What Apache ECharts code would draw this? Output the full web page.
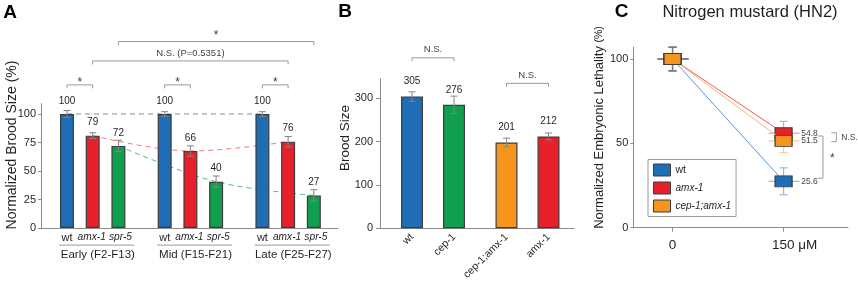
<!DOCTYPE html>
<html>
<head>
<meta charset="utf-8">
<script src="https://cdn.jsdelivr.net/npm/echarts@6.0.0/dist/echarts.min.js"></script>
<style>
  html, body { margin: 0; padding: 0; background: #fff; }
  #chart { width: 858px; height: 281px; }
</style>
</head>
<body>
<div id="chart"></div>
<script>
// ---- panel A: normalized brood size over generations ----
const groupsA = ['Early (F2-F13)', 'Mid (F15-F21)', 'Late (F25-F27)'];
const strainsA = ['wt', 'amx-1', 'spr-5'];
const wtA = [100, 100, 100];
const amxA = [81, 67.5, 75.7];
const sprA = [72, 40.6, 28.6];
const wtErrA = [3, 2, 2];
const amxErrA = [2.5, 4.5, 4.5];
const sprErrA = [5, 5, 5];
const wtLabA = ['100', '100', '100'];
const amxLabA = ['79', '66', '76'];
const sprLabA = ['72', '40', '27'];
// [bar index from, bar index to, text]
const compA = [[0, 1, '*'], [3, 4, '*'], [6, 7, '*'], [1, 7, 'N.S. (P=0.5351)'], [2, 8, '*']];

// ---- panel B: brood size ----
const strainsB = ['wt', 'cep-1', 'cep-1;amx-1', 'amx-1'];
const broodB = [304, 285, 198, 212];
const broodErrB = [11, 20, 10, 8];
const broodLabB = ['305', '276', '201', '212'];
const compB = [[0, 1, 'N.S.'], [2, 3, 'N.S.']];

// ---- panel C: embryonic lethality, HN2 ----
const doseC = [0, 150];
const seriesC = ['wt', 'amx-1', 'cep-1;amx-1'];
const wtC = [100, 27.5];
const amxC = [100, 56];
const cepAmxC = [100, 51.5];
const wtErrC = [7, 8];
const amxErrC = [7, 7];
const cepAmxErrC = [7, 7];
const endLabC = ['25.6', '54.8', '51.5'];

const FONT = "'Liberation Sans', Arial, sans-serif";
const INK = '#231f20';
const AXIS = '#8c8c8c';
const BRK = '#9a9a9a';
const EDGE = '#3d3d3d';
const ERR = '#858585';
const barColorsA = ['#1f6db5', '#e8202a', '#0f9f4e'];
const barColorsB = ['#1f6db5', '#0f9f4e', '#f7941d', '#e8202a'];
const colC = ['#1f6db5', '#e8202a', '#f7941d'];
const lineColC = ['#5a96d8', '#ef5a57', '#fbb870'];
const errColC = ['#8fb9e6', '#f39a97', '#fbc98f'];

// layout
const posA = [];
const labPosA = [];
const labShift = [0, -0.04, 0.08];
groupsA.forEach((g, gi) => strainsA.forEach((s, si) => {
  posA.push(gi * 3.8 + si);
  labPosA.push(gi * 3.8 + si + labShift[si]);
}));
const posB = [0, 1, 2.25, 3.25];
const levA = [125.5, 125.5, 125.5, 146.5, 163.5];
const liftA = [2, 2, 2, 3, 6];
const levB = [393.5, 334.5];
const liftB = [3, 3];

const valsA = [], errsA = [], labsA = [];
groupsA.forEach((g, gi) => {
  valsA.push(wtA[gi], amxA[gi], sprA[gi]);
  errsA.push(wtErrA[gi], amxErrA[gi], sprErrA[gi]);
  labsA.push(wtLabA[gi], amxLabA[gi], sprLabA[gi]);
});

function errRender(params, api) {
  const x = api.value(0), y = api.value(1), e = api.value(2);
  const t = api.coord([x, y + e]), b = api.coord([x, y - e]);
  const hw = 3.5, st = { stroke: ERR, lineWidth: 1 };
  return { type: 'group', children: [
    { type: 'line', shape: { x1: t[0], y1: t[1], x2: b[0], y2: b[1] }, style: st },
    { type: 'line', shape: { x1: t[0] - hw, y1: t[1], x2: t[0] + hw, y2: t[1] }, style: st },
    { type: 'line', shape: { x1: b[0] - hw, y1: b[1], x2: b[0] + hw, y2: b[1] }, style: st }
  ]};
}

function bracketRender(list, lift) {
  return function (params, api) {
    const p1 = api.coord([api.value(0), api.value(2)]);
    const p2 = api.coord([api.value(1), api.value(2)]);
    const txt = list[params.dataIndex][2];
    const star = txt === '*';
    return { type: 'group', children: [
      { type: 'polyline', shape: { points: [[p1[0], p1[1] + 3.5], [p1[0], p1[1]], [p2[0], p2[1]], [p2[0], p2[1] + 3.5]] },
        style: { stroke: BRK, lineWidth: 1, fill: null } },
      { type: 'text', x: (p1[0] + p2[0]) / 2, y: p1[1] - lift[params.dataIndex],
        style: { text: txt, align: 'center', verticalAlign: star ? 'middle' : 'bottom',
          fontSize: star ? 12 : 9.5, fontFamily: FONT, fill: '#444' } }
    ]};
  };
}

function lineRender(params, api) {
  const p1 = api.coord([api.value(0), api.value(2)]);
  const p2 = api.coord([api.value(1), api.value(2)]);
  return { type: 'line', shape: { x1: p1[0], y1: p1[1], x2: p2[0], y2: p2[1] }, style: { stroke: BRK, lineWidth: 1 } };
}

const chart = echarts.init(document.getElementById('chart'), null, { renderer: 'canvas' });

const baseAxis = {
  axisLine: { show: true, onZero: false, lineStyle: { color: AXIS, width: 1 } },
  splitLine: { show: false },
  axisTick: { show: false }
};
const tickLab = { fontSize: 11, color: INK, fontFamily: FONT, hideOverlap: false };
const italic = { fontStyle: 'italic', fontSize: 10.2, color: INK, fontFamily: FONT };

const option = {
  animation: false,
  backgroundColor: '#fff',
  textStyle: { fontFamily: FONT },
  grid: [
    { left: 41, top: 103.7, width: 297, height: 124.3, containLabel: false, outerBoundsMode: 'none' },
    { left: 380, top: 78.8, width: 194, height: 149.5, containLabel: false, outerBoundsMode: 'none' },
    { left: 633.3, top: 47.2, width: 214.7, height: 180.5, containLabel: false, outerBoundsMode: 'none' }
  ],
  xAxis: [
    Object.assign({}, baseAxis, {
      gridIndex: 0, type: 'value', min: -1.01, max: 10.54,
      axisLabel: Object.assign({}, tickLab, {
        customValues: labPosA, margin: 4,
        formatter: v => {
          const k = labPosA.findIndex(p => Math.abs(p - v) < 1e-6);
          const s = strainsA[k % 3];
          return s === 'wt' ? s : '{i|' + s + '}';
        },
        rich: { i: italic }
      })
    }),
    {
      gridIndex: 0, type: 'value', min: -1.01, max: 10.54, position: 'bottom', offset: 16.5,
      axisLine: { show: false, onZero: false }, axisTick: { show: false }, splitLine: { show: false },
      axisLabel: Object.assign({}, tickLab, {
        fontSize: 11.5, margin: 4,
        customValues: groupsA.map((g, gi) => gi * 3.8 + 1.2),
        formatter: v => groupsA[Math.round((v - 1.2) / 3.8)]
      })
    },
    Object.assign({}, baseAxis, {
      gridIndex: 1, type: 'value', min: -0.762, max: 3.857,
      axisLabel: Object.assign({}, tickLab, {
        customValues: posB, rotate: 45, margin: 7, fontSize: 10.5,
        formatter: v => strainsB[posB.findIndex(p => Math.abs(p - v) < 1e-6)]
      })
    }),
    Object.assign({}, baseAxis, {
      gridIndex: 2, type: 'value', min: -53, max: 237,
      axisTick: { show: true, customValues: doseC, length: 4, lineStyle: { color: AXIS } },
      axisLabel: Object.assign({}, tickLab, {
        customValues: doseC, fontSize: 13.5, margin: 11,
        formatter: v => v === 0 ? '0' : '{u|' + v + ' μM}',
        rich: { u: { fontSize: 13.5, fontFamily: FONT, color: INK, padding: [0, 0, 0, 22] } }
      })
    })
  ],
  yAxis: [
    Object.assign({}, baseAxis, {
      gridIndex: 0, type: 'value', min: 0, max: 109,
      axisTick: { show: true, customValues: [0, 25, 50, 75, 100], length: 3, lineStyle: { color: AXIS } },
      axisLabel: Object.assign({}, tickLab, { customValues: [0, 25, 50, 75, 100], margin: 5 })
    }),
    Object.assign({}, baseAxis, {
      gridIndex: 1, type: 'value', min: 0, max: 345,
      axisTick: { show: true, customValues: [0, 100, 200, 300], length: 4, lineStyle: { color: AXIS } },
      axisLabel: Object.assign({}, tickLab, { customValues: [0, 100, 200, 300], margin: 7 })
    }),
    Object.assign({}, baseAxis, {
      gridIndex: 2, type: 'value', min: 0, max: 107,
      axisTick: { show: true, customValues: [0, 50, 100], length: 3, lineStyle: { color: AXIS } },
      axisLabel: Object.assign({}, tickLab, { customValues: [0, 50, 100], margin: 5 })
    })
  ],
  legend: {
    orient: 'vertical', left: 648, top: 159.5,
    data: seriesC, icon: 'rect', itemWidth: 17, itemHeight: 12, itemGap: 5,
    padding: [4, 5, 4, 5], borderColor: '#9a9a9a', borderWidth: 1, borderRadius: 0, backgroundColor: '#fff',
    itemStyle: { borderColor: EDGE, borderWidth: 1 },
    textStyle: { fontSize: 10.5, color: INK, fontFamily: FONT,
      rich: { i: { fontStyle: 'italic', fontSize: 10, color: INK, fontFamily: FONT } } },
    formatter: n => n === 'wt' ? n : '{i|' + n + '}'
  },
  series: [
    // A trend lines
    { type: 'line', xAxisIndex: 0, yAxisIndex: 0, z: 1, symbol: 'none', silent: true,
      data: [0, 1, 2].map(g => [posA[g * 3], wtA[g]]),
      lineStyle: { color: '#8a8a8a', width: 1, type: [5, 4] } },
    { type: 'line', xAxisIndex: 0, yAxisIndex: 0, z: 1, symbol: 'none', smooth: 0.35, silent: true,
      data: [0, 1, 2].map(g => [posA[g * 3 + 1], amxA[g]]),
      lineStyle: { color: '#f47a72', width: 1, type: [5, 4] } },
    { type: 'line', xAxisIndex: 0, yAxisIndex: 0, z: 1, symbol: 'none', smooth: 0.35, silent: true,
      data: [0, 1, 2].map(g => [posA[g * 3 + 2], sprA[g]]),
      lineStyle: { color: '#55bb7c', width: 1, type: [5, 4] } },
    // A bars
    { type: 'bar', xAxisIndex: 0, yAxisIndex: 0, z: 2, barWidth: 14,
      data: valsA.map((v, k) => ({ value: [posA[k], v],
        itemStyle: { color: barColorsA[k % 3], borderColor: EDGE, borderWidth: 1.2 } })),
      label: { show: true, position: 'top', distance: 8, fontSize: 10, color: INK, fontFamily: FONT,
        formatter: p => labsA[p.dataIndex] } },
    { type: 'custom', xAxisIndex: 0, yAxisIndex: 0, z: 3, renderItem: errRender,
      encode: { x: 0, y: 1 }, data: valsA.map((v, k) => [posA[k], v, errsA[k]]) },
    { type: 'custom', xAxisIndex: 0, yAxisIndex: 0, z: 3, renderItem: bracketRender(compA, liftA),
      encode: { x: [0, 1], y: 2 }, data: compA.map((c, i) => [posA[c[0]], posA[c[1]], levA[i]]) },
    { type: 'custom', xAxisIndex: 0, yAxisIndex: 0, z: 3, renderItem: lineRender,
      encode: { x: [0, 1], y: 2 }, data: groupsA.map((g, gi) => [gi * 3.8 - 0.3, gi * 3.8 + 2.62, -15]) },
    // B bars
    { type: 'bar', xAxisIndex: 2, yAxisIndex: 1, z: 2, barWidth: 22,
      data: broodB.map((v, k) => ({ value: [posB[k], v],
        itemStyle: { color: barColorsB[k], borderColor: EDGE, borderWidth: 1.2 } })),
      label: { show: true, position: 'top', distance: 10, fontSize: 10, color: INK, fontFamily: FONT,
        formatter: p => broodLabB[p.dataIndex] } },
    { type: 'custom', xAxisIndex: 2, yAxisIndex: 1, z: 3, renderItem: errRender,
      encode: { x: 0, y: 1 }, data: broodB.map((v, k) => [posB[k], v, broodErrB[k]]) },
    { type: 'custom', xAxisIndex: 2, yAxisIndex: 1, z: 3, renderItem: bracketRender(compB, liftB),
      encode: { x: [0, 1], y: 2 }, data: compB.map((c, i) => [posB[c[0]], posB[c[1]], levB[i]]) },
    // C error crosses
    { type: 'custom', xAxisIndex: 3, yAxisIndex: 2, z: 1,
      encode: { x: 0, y: 1 },
      data: [wtC, amxC, cepAmxC].flatMap((arr, si) => doseC.map((d, i) =>
        [d, arr[i], [wtErrC, amxErrC, cepAmxErrC][si][i], si])),
      renderItem: (params, api) => {
        const x = api.value(0), y = api.value(1), e = api.value(2), si = api.value(3);
        const c = api.coord([x, y]), t = api.coord([x, y + e]), b = api.coord([x, y - e]);
        const col = x === 0 ? '#7a7a7a' : errColC[si];
        const st = { stroke: col, lineWidth: 1.2 };
        return { type: 'group', children: [
          { type: 'line', shape: { x1: t[0], y1: t[1], x2: b[0], y2: b[1] }, style: st },
          { type: 'line', shape: { x1: t[0] - 4, y1: t[1], x2: t[0] + 4, y2: t[1] }, style: st },
          { type: 'line', shape: { x1: b[0] - 4, y1: b[1], x2: b[0] + 4, y2: b[1] }, style: st },
          { type: 'line', shape: { x1: c[0] - 15, y1: c[1], x2: c[0] + 16, y2: c[1] }, style: st }
        ]};
      } },
    // C lines with square markers
    ...[wtC, amxC, cepAmxC].map((arr, si) => ({
      name: seriesC[si], type: 'line', xAxisIndex: 3, yAxisIndex: 2, z: 2 + si,
      symbol: 'rect', symbolSize: [17, 11],
      lineStyle: { color: lineColC[si], width: 1 },
      itemStyle: { color: colC[si], borderColor: EDGE, borderWidth: 1 },
      data: doseC.map((d, i) => i === doseC.length - 1
        ? { value: [d, arr[i]], label: { show: true, position: 'right', distance: 8.5,
            formatter: endLabC[si], fontSize: 8.5, color: '#444', fontFamily: FONT } }
        : [d, arr[i]])
    })),
    // C significance brackets
    { type: 'custom', xAxisIndex: 3, yAxisIndex: 2, z: 3,
      encode: { x: 0, y: [1, 2] },
      data: [[221.2, amxC[1] + 0.3, cepAmxC[1] - 0.5], [203.2, (amxC[1] + cepAmxC[1]) / 2 + 0.6, wtC[1] + 1.8]],
      renderItem: (params, api) => {
        const a = api.coord([api.value(0), api.value(1)]), b = api.coord([api.value(0), api.value(2)]);
        const ns = params.dataIndex === 0;
        return { type: 'group', children: [
          { type: 'polyline', shape: { points: [[a[0] - 5, a[1]], [a[0], a[1]], [b[0], b[1]], [b[0] - 5, b[1]]] },
            style: { stroke: BRK, lineWidth: 1, fill: null } },
          { type: 'text', x: a[0] + (ns ? 5 : 7), y: (a[1] + b[1]) / 2 + (ns ? 0 : 2),
            style: { text: ns ? 'N.S.' : '*', align: 'left', verticalAlign: 'middle',
              fontSize: ns ? 8.5 : 12, fontFamily: FONT, fill: '#444' } }
        ]};
      } }
  ],
  graphic: [
    { type: 'text', x: 10, y: 13, style: { text: 'A', fontSize: 19, fontWeight: 'bold', fontFamily: FONT, fill: '#000', align: 'center', verticalAlign: 'middle' } },
    { type: 'text', x: 345, y: 12, style: { text: 'B', fontSize: 19, fontWeight: 'bold', fontFamily: FONT, fill: '#000', align: 'center', verticalAlign: 'middle' } },
    { type: 'text', x: 621.5, y: 12, style: { text: 'C', fontSize: 19, fontWeight: 'bold', fontFamily: FONT, fill: '#000', align: 'center', verticalAlign: 'middle' } },
    { type: 'text', x: 750, y: 12, style: { text: 'Nitrogen mustard (HN2)', fontSize: 16.5, fontFamily: FONT, fill: INK, align: 'center', verticalAlign: 'middle' } },
    { type: 'text', x: 12, y: 145, rotation: Math.PI / 2, style: { text: 'Normalized Brood Size (%)', fontSize: 14, fontFamily: FONT, fill: INK, align: 'center', verticalAlign: 'middle' } },
    { type: 'text', x: 345, y: 138, rotation: Math.PI / 2, style: { text: 'Brood Size', fontSize: 13.5, fontFamily: FONT, fill: INK, align: 'center', verticalAlign: 'middle' } },
    { type: 'text', x: 599, y: 127.5, rotation: Math.PI / 2, style: {
      text: '{a|Normalized Embryonic Lethality }{b|(%)}', align: 'center', verticalAlign: 'middle',
      rich: { a: { fontSize: 13, fontFamily: FONT, fill: INK, color: INK }, b: { fontSize: 10.5, fontFamily: FONT, color: INK } } } }
  ]
};

chart.setOption(option);
</script>
</body>
</html>
